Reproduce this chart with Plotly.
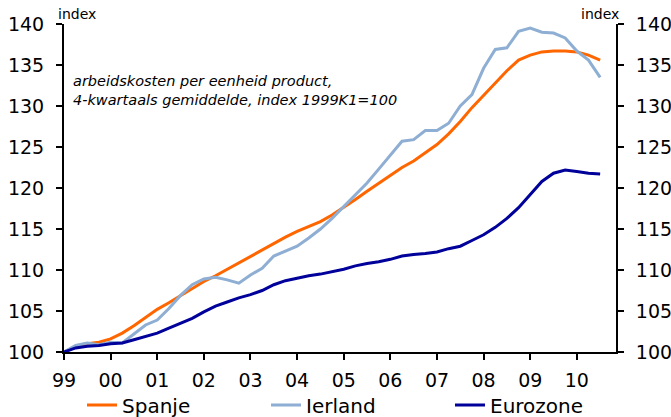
import plotly.graph_objects as go

# quarterly data, 1999K1 .. 2010K3
quarters = [1999 + i / 4 for i in range(47)]

spanje = [100.0, 100.6, 101.0, 101.2, 101.6, 102.3, 103.2, 104.2, 105.2, 106.0,
          106.9, 107.8, 108.6, 109.3, 110.1, 110.9, 111.6, 112.4, 113.2, 114.0,
          114.7, 115.3, 115.9, 116.7, 117.6, 118.6, 119.6, 120.6, 121.6, 122.5,
          123.3, 124.3, 125.3, 126.6, 128.1, 129.8, 131.3, 132.8, 134.3, 135.6,
          136.2, 136.6, 136.7, 136.7, 136.6, 136.2, 135.6]

ierland = [100.0, 100.8, 101.1, 100.9, 101.2, 101.1, 102.2, 103.3, 103.9, 105.3,
           106.9, 108.2, 108.9, 109.1, 108.8, 108.4, 109.4, 110.2, 111.7, 112.3,
           112.9, 113.9, 115.0, 116.3, 117.7, 119.1, 120.6, 122.3, 124.0, 125.7,
           125.9, 127.0, 127.0, 127.9, 130.0, 131.4, 134.6, 136.9, 137.1, 139.1,
           139.5, 139.0, 138.9, 138.3, 136.7, 135.6, 133.5]

eurozone = [100.0, 100.5, 100.7, 100.8, 101.0, 101.1, 101.5, 101.9, 102.3, 102.9,
            103.5, 104.1, 104.9, 105.6, 106.1, 106.6, 107.0, 107.5, 108.2, 108.7,
            109.0, 109.3, 109.5, 109.8, 110.1, 110.5, 110.8, 111.0, 111.3, 111.7,
            111.9, 112.0, 112.2, 112.6, 112.9, 113.6, 114.3, 115.2, 116.3, 117.6,
            119.2, 120.8, 121.8, 122.2, 122.0, 121.8, 121.7]

year_ticks = list(range(1999, 2011))
year_labels = ["99", "00", "01", "02", "03", "04", "05", "06", "07", "08", "09", "10"]
y_ticks = [100, 105, 110, 115, 120, 125, 130, 135, 140]

FONT = "DejaVu Sans"

fig = go.Figure()
fig.add_trace(go.Scatter(x=quarters, y=spanje, mode="lines", name="Spanje",
                         line=dict(color="#FF6600", width=3)))
fig.add_trace(go.Scatter(x=quarters, y=ierland, mode="lines", name="Ierland",
                         line=dict(color="#8EAED3", width=3)))
fig.add_trace(go.Scatter(x=quarters, y=eurozone, mode="lines", name="Eurozone",
                         yaxis="y2", line=dict(color="#00009A", width=3)))

axis_common = dict(range=[100, 140], tickvals=y_ticks, showgrid=False, zeroline=False,
                   showline=True, linecolor="black", linewidth=2, ticks="outside",
                   ticklen=6, tickwidth=2, tickcolor="black", ticklabelstandoff=8,
                   tickfont=dict(family=FONT, size=19, color="black"))

fig.update_layout(
    width=671, height=417,
    margin=dict(l=64, r=55, t=24, b=65, autoexpand=False),
    paper_bgcolor="white", plot_bgcolor="white",
    font=dict(family=FONT, color="black"),
    showlegend=True,
    legend=dict(orientation="h", xref="container", yref="container",
                x=82 / 671, xanchor="left", y=1 - 405 / 417, yanchor="middle",
                entrywidth=139, entrywidthmode="pixels", itemwidth=30,
                font=dict(family=FONT, size=20, color="black"),
                tracegroupgap=0, bgcolor="rgba(0,0,0,0)"),
    xaxis=dict(range=[1999, 2010.84], tickvals=year_ticks, ticktext=year_labels,
               showgrid=False, zeroline=False, showline=True, linecolor="black",
               linewidth=2, ticks="outside", ticklen=6, tickwidth=2, tickcolor="black",
               ticklabelstandoff=4,
               tickfont=dict(family=FONT, size=19, color="black")),
    yaxis=dict(side="left", **axis_common),
    yaxis2=dict(side="right", overlaying="y", anchor="x", **axis_common),
    annotations=[
        dict(text="index", xref="paper", yref="paper", x=-0.014, y=1.0, xanchor="left",
             yanchor="bottom", showarrow=False, font=dict(family=FONT, size=14)),
        dict(text="index", xref="paper", yref="paper", x=1.009, y=1.0, xanchor="right",
             yanchor="bottom", showarrow=False, font=dict(family=FONT, size=14)),
        dict(text="<i>arbeidskosten per eenheid product,<br>4-kwartaals gemiddelde, index 1999K1=100</i>",
             xref="paper", yref="paper", x=0.012, y=0.858, xanchor="left", yanchor="top",
             align="left", showarrow=False, font=dict(family=FONT, size=14.5)),
    ],
)

fig.write_html("out.html", config={"displayModeBar": False},
               post_script="document.body.style.margin='0px';")
